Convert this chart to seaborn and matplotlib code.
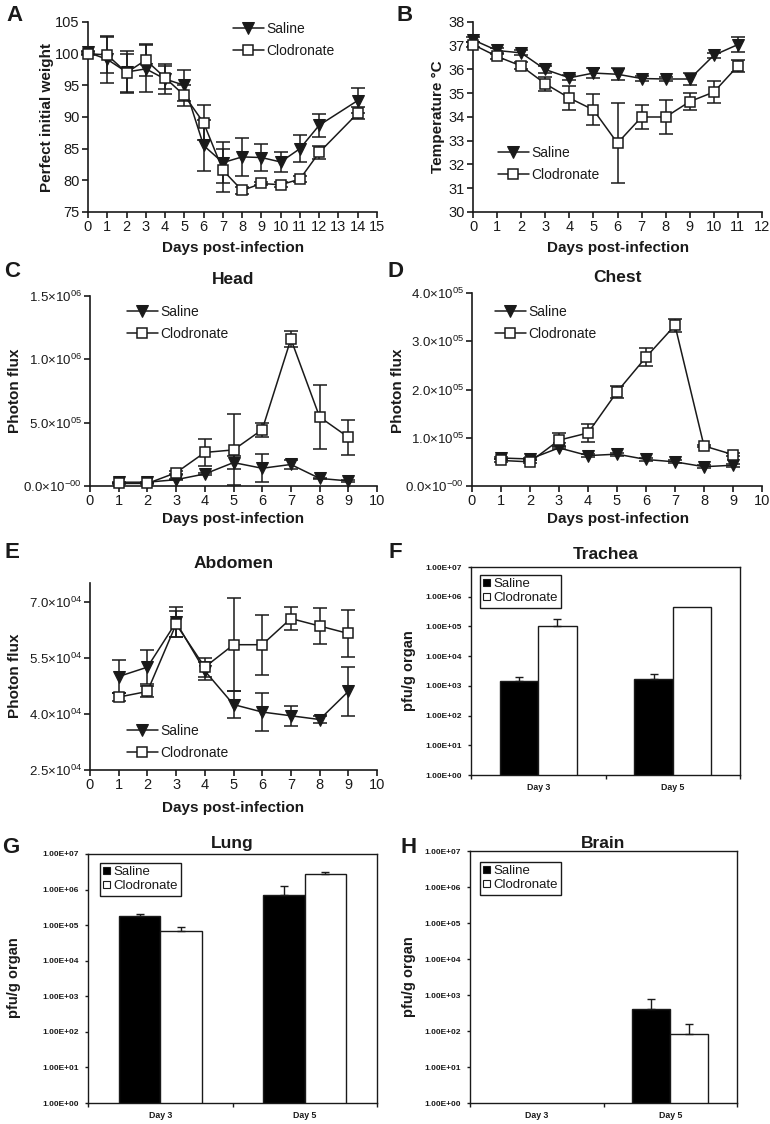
import numpy as np
import pandas as pd
import matplotlib
matplotlib.use('Agg')
import matplotlib.pyplot as plt
import seaborn as sns
from matplotlib.ticker import FuncFormatter, FixedLocator, NullLocator

# ---- data ----
# A: body weight (% of initial)
days_a = [0, 1, 2, 3, 4, 5, 6, 7, 8, 9, 10, 11, 12, 14]
wt_sal = [100.2, 99.1, 97.1, 97.6, 96.0, 95.0, 85.5, 82.8, 83.7, 83.6, 82.9, 85.0, 88.7, 92.6]
wt_sal_err = [0.2, 3.7, 3.3, 3.7, 2.3, 2.4, 4.1, 3.3, 3.0, 2.2, 1.6, 2.1, 1.8, 2.0]
wt_clo = [100.0, 99.8, 97.0, 99.0, 96.2, 93.4, 89.1, 81.6, 78.4, 79.5, 79.3, 80.2, 84.4, 90.6]
wt_clo_err = [0.2, 2.8, 3.0, 2.5, 1.8, 1.6, 2.8, 3.4, 0.6, 0.3, 0.4, 0.5, 1.0, 0.9]

# B: temperature
days_b = [0, 1, 2, 3, 4, 5, 6, 7, 8, 9, 10, 11]
tmp_sal = [37.25, 36.8, 36.7, 36.0, 35.65, 35.85, 35.8, 35.62, 35.6, 35.6, 36.6, 37.05]
tmp_sal_err = [0.1, 0.1, 0.1, 0.15, 0.1, 0.2, 0.25, 0.1, 0.1, 0.25, 0.1, 0.3]
tmp_clo = [37.05, 36.55, 36.15, 35.4, 34.8, 34.3, 32.9, 34.0, 34.0, 34.65, 35.05, 36.15]
tmp_clo_err = [0.1, 0.1, 0.15, 0.3, 0.5, 0.65, 1.7, 0.5, 0.7, 0.35, 0.45, 0.25]

# C-E: photon flux
days_img = [1, 2, 3, 4, 5, 6, 7, 8, 9]
head_sal = [3.0e4, 3.0e4, 5.0e4, 9.5e4, 1.85e5, 1.4e5, 1.7e5, 6.0e4, 4.0e4]
head_sal_err = [5e3, 5e3, 5e3, 1e4, 5e4, 1.1e5, 3.5e4, 5e3, 5e3]
head_clo = [2.0e4, 2.0e4, 1.05e5, 2.65e5, 2.85e5, 4.45e5, 1.16e6, 5.45e5, 3.85e5]
head_clo_err = [5e3, 5e3, 1e4, 1.05e5, 2.8e5, 5.5e4, 6.5e4, 2.55e5, 1.4e5]

chest_sal = [5.8e4, 5.6e4, 7.9e4, 6.3e4, 6.6e4, 5.5e4, 5.0e4, 4.0e4, 4.3e4]
chest_sal_err = [3e3, 3e3, 3e3, 3e3, 3e3, 3e3, 3e3, 3e3, 3e3]
chest_clo = [5.3e4, 5.0e4, 9.5e4, 1.1e5, 1.95e5, 2.67e5, 3.33e5, 8.3e4, 6.5e4]
chest_clo_err = [3e3, 3e3, 1.5e4, 1.9e4, 1.2e4, 1.8e4, 1.3e4, 3e3, 3e3]

abd_sal = [5.0e4, 5.25e4, 6.45e4, 5.15e4, 4.25e4, 4.05e4, 3.95e4, 3.85e4, 4.6e4]
abd_sal_err = [4.5e3, 4.5e3, 4e3, 2.5e3, 3.5e3, 5e3, 2.7e3, 1e3, 6.5e3]
abd_clo = [4.45e4, 4.6e4, 6.4e4, 5.25e4, 5.85e4, 5.85e4, 6.55e4, 6.35e4, 6.15e4]
abd_clo_err = [1e3, 1.5e3, 3.5e3, 2.5e3, 1.25e4, 8e3, 3.2e3, 4.8e3, 6.2e3]

# F-H: virus titres
bar_days = ['Day 3', 'Day 5']
trach_sal = [1.5e3, 1.75e3]
trach_sal_err = [5e2, 8e2]
trach_clo = [1.05e5, 4.5e5]
trach_clo_err = [7.5e4, 0]
lung_sal = [1.85e5, 6.9e5]
lung_sal_err = [2.5e4, 5.5e5]
lung_clo = [6.8e4, 2.8e6]
lung_clo_err = [2.1e4, 3e5]
brain_sal = [np.nan, 4.0e2]
brain_sal_err = [np.nan, 3.9e2]
brain_clo = [np.nan, 80]
brain_clo_err = [np.nan, 80]

# ---- style ----
sns.set_theme(style='ticks')
plt.rcParams['font.family'] = ['Liberation Sans', 'DejaVu Sans']
plt.rcParams['mathtext.fontset'] = 'custom'
plt.rcParams['mathtext.rm'] = 'Liberation Sans'
plt.rcParams['axes.linewidth'] = 1.2
plt.rcParams['axes.edgecolor'] = 'k'
plt.rcParams['text.color'] = 'k'
plt.rcParams['xtick.color'] = 'k'
plt.rcParams['ytick.color'] = 'k'

W, H = 770, 1124
fig = plt.figure(figsize=(W / 100, H / 100), dpi=100)


def add_ax(l, t, r, b):
    return fig.add_axes([l / W, 1 - b / H, (r - l) / W, (b - t) / H])


def ftext(x, y, s, **kw):
    fig.text(x / W, 1 - y / H, s, **kw)


def sci(v, pos):
    if v == 0:
        return r'$\mathregular{0.0{\times}10^{-00}}$'
    e = int(np.floor(np.log10(abs(v)) + 1e-9))
    m = v / 10 ** e
    return r'$\mathregular{%.1f{\times}10^{%02d}}$' % (m, e)


def line_panel(ax, days, sal, sal_err, clo, clo_err, leg_xy):
    for vals, errs in [(sal, sal_err), (clo, clo_err)]:
        ax.errorbar(days, vals, yerr=errs, fmt='none', ecolor='k',
                    elinewidth=1.1, capsize=5, capthick=1.1, zorder=2, clip_on=False)
    sns.lineplot(x=days, y=sal, ax=ax, color='k', lw=1.1, marker='v',
                 markersize=9, markerfacecolor='k', markeredgecolor='k',
                 errorbar=None, label='Saline', zorder=3, clip_on=False)
    sns.lineplot(x=days, y=clo, ax=ax, color='k', lw=1.1, marker='s',
                 markersize=7.5, markerfacecolor='w', markeredgecolor='k',
                 markeredgewidth=1.1, errorbar=None, label='Clodronate', zorder=4,
                 clip_on=False)
    sns.despine(ax=ax)
    ax.tick_params(direction='out', length=4.5, width=1.2, pad=1.5, labelsize=10.5)
    ax.set_xlabel('')
    ax.set_ylabel('')
    ax.legend(loc='upper left', bbox_to_anchor=(leg_xy[0] / W, 1 - leg_xy[1] / H),
              bbox_transform=fig.transFigure, frameon=False, fontsize=10,
              handlelength=2.2, handletextpad=0.2, labelspacing=0.6,
              borderpad=0, borderaxespad=0)


def bar_panel(ax, sal, sal_err, clo, clo_err, leg_xy):
    df = pd.DataFrame({'day': bar_days * 2,
                       'group': ['Saline'] * 2 + ['Clodronate'] * 2,
                       'pfu': sal + clo})
    w = 0.571
    sns.barplot(data=df, x='day', y='pfu', hue='group',
                palette={'Saline': '#000000', 'Clodronate': '#ffffff'}, saturation=1,
                edgecolor='k', linewidth=1, width=w, errorbar=None, ax=ax)
    ax.set_yscale('log')
    for vals, errs, off in [(sal, sal_err, -w / 4), (clo, clo_err, w / 4)]:
        for i, (v, e) in enumerate(zip(vals, errs)):
            if np.isfinite(v) and e > 0:
                ax.errorbar(i + off, v, yerr=[[0], [e]], fmt='none', ecolor='k',
                            elinewidth=1, capsize=3, capthick=1, zorder=3)
    ax.set_ylim(1, 1e7)
    ax.set_xlim(-0.5, 1.5)
    ax.yaxis.set_major_locator(FixedLocator([10.0 ** k for k in range(8)]))
    ax.yaxis.set_minor_locator(NullLocator())
    ax.yaxis.set_major_formatter(FuncFormatter(lambda v, p: f'{v:.2E}'))
    ax.xaxis.set_minor_locator(FixedLocator([-0.5, 0.5, 1.5]))
    ax.tick_params(axis='y', direction='out', length=2.5, width=1, pad=4, labelsize=6)
    ax.tick_params(axis='x', which='major', length=0, pad=6, labelsize=6.3)
    ax.tick_params(axis='x', which='minor', direction='out', length=3, width=1)
    for lab in ax.get_yticklabels() + ax.get_xticklabels():
        lab.set_fontweight('bold')
    for s in ax.spines.values():
        s.set_linewidth(1)
    ax.set_xlabel('')
    ax.set_ylabel('')
    old = ax.get_legend()
    handles = old.legend_handles
    labels = [t.get_text() for t in old.get_texts()]
    for h in handles:
        h.set_edgecolor('k')
        h.set_linewidth(0.8)
    ax.legend(handles, labels, loc='upper left',
              bbox_to_anchor=(leg_xy[0] / W, 1 - leg_xy[1] / H),
              bbox_transform=fig.transFigure, frameon=True, fancybox=False,
              edgecolor='k', framealpha=1, fontsize=9.5, handlelength=0.5,
              handleheight=0.5, handletextpad=0.25, labelspacing=0.15,
              borderpad=0.25, borderaxespad=0)
    ax.get_legend().get_frame().set_linewidth(1)


# ---- A ----
axA = add_ax(88, 22, 377, 212)
line_panel(axA, days_a, wt_sal, wt_sal_err, wt_clo, wt_clo_err, (233, 22))
axA.set_xlim(0, 15)
axA.set_ylim(75, 105)
axA.set_xticks(range(0, 16))
axA.set_yticks(range(75, 106, 5))

# ---- B ----
axB = add_ax(473, 22, 762, 212)
line_panel(axB, days_b, tmp_sal, tmp_sal_err, tmp_clo, tmp_clo_err, (498, 146))
axB.set_xlim(0, 12)
axB.set_ylim(30, 38)
axB.set_xticks(range(0, 13))
axB.set_yticks(range(30, 39))

# ---- C ----
axC = add_ax(90, 296, 377, 486)
line_panel(axC, days_img, head_sal, head_sal_err, head_clo, head_clo_err, (127, 305))
axC.set_xlim(0, 10)
axC.set_ylim(0, 1.5e6)
axC.set_xticks(range(0, 11))
axC.set_yticks([0, 5e5, 1e6, 1.5e6])
axC.yaxis.set_major_formatter(FuncFormatter(sci))
axC.tick_params(axis='y', labelsize=9.5)
axC.set_title('Head', fontsize=12.5, fontweight='bold', pad=9)

# ---- D ----
axD = add_ax(472, 293, 762, 486)
line_panel(axD, days_img, chest_sal, chest_sal_err, chest_clo, chest_clo_err, (495, 305))
axD.set_xlim(0, 10)
axD.set_ylim(0, 4e5)
axD.set_xticks(range(0, 11))
axD.set_yticks([0, 1e5, 2e5, 3e5, 4e5])
axD.yaxis.set_major_formatter(FuncFormatter(sci))
axD.tick_params(axis='y', labelsize=9.5)
axD.set_title('Chest', fontsize=12.5, fontweight='bold', pad=8)

# ---- E ----
axE = add_ax(90, 583, 377, 770)
line_panel(axE, days_img, abd_sal, abd_sal_err, abd_clo, abd_clo_err, (127, 724))
axE.set_xlim(0, 10)
axE.set_ylim(2.5e4, 7.5e4)
axE.set_xticks(range(0, 11))
axE.set_yticks([2.5e4, 4.0e4, 5.5e4, 7.0e4])
axE.yaxis.set_major_formatter(FuncFormatter(sci))
axE.tick_params(axis='y', labelsize=9.5)
axE.set_title('Abdomen', fontsize=12.5, fontweight='bold', pad=11)

# ---- F, G, H ----
axF = add_ax(471, 567, 740, 775)
bar_panel(axF, trach_sal, trach_sal_err, trach_clo, trach_clo_err, (480, 575))
axF.set_title('Trachea', fontsize=12.5, fontweight='bold', pad=6)

axG = add_ax(88, 854, 377, 1103)
bar_panel(axG, lung_sal, lung_sal_err, lung_clo, lung_clo_err, (100, 863))
axG.set_title('Lung', fontsize=12.5, fontweight='bold', pad=4)

axH = add_ax(470, 851, 737, 1103)
bar_panel(axH, brain_sal, brain_sal_err, brain_clo, brain_clo_err, (480, 862))
axH.set_title('Brain', fontsize=12.5, fontweight='bold', pad=1)

# ---- axis labels ----
lab = dict(fontsize=11, fontweight='bold', ha='center', va='center')
ftext(47, 117, 'Perfect initial weight', rotation=90, **lab)
ftext(438, 117, 'Temperature °C', rotation=90, **lab)
ftext(15, 391, 'Photon flux', rotation=90, **lab)
ftext(398, 391, 'Photon flux', rotation=90, **lab)
ftext(15, 676, 'Photon flux', rotation=90, **lab)
ftext(409, 671, 'pfu/g organ', rotation=90, fontsize=10.5, fontweight='bold', ha='center', va='center')
ftext(14, 978, 'pfu/g organ', rotation=90, fontsize=10.5, fontweight='bold', ha='center', va='center')
ftext(409, 977, 'pfu/g organ', rotation=90, fontsize=10.5, fontweight='bold', ha='center', va='center')
for x, y in [(233, 248), (618, 248), (233, 519), (618, 519), (233, 808)]:
    ftext(x, y, 'Days post-infection', **lab)

# ---- panel letters ----
for s, x, y in [('A', 6, 5), ('B', 397, 5), ('C', 4, 261), ('D', 388, 261),
                ('E', 4, 542), ('F', 389, 542), ('G', 2, 837), ('H', 401, 837)]:
    ftext(x, y, s, fontsize=16, fontweight='bold', ha='left', va='top')

fig.savefig('out.png', dpi=100)
